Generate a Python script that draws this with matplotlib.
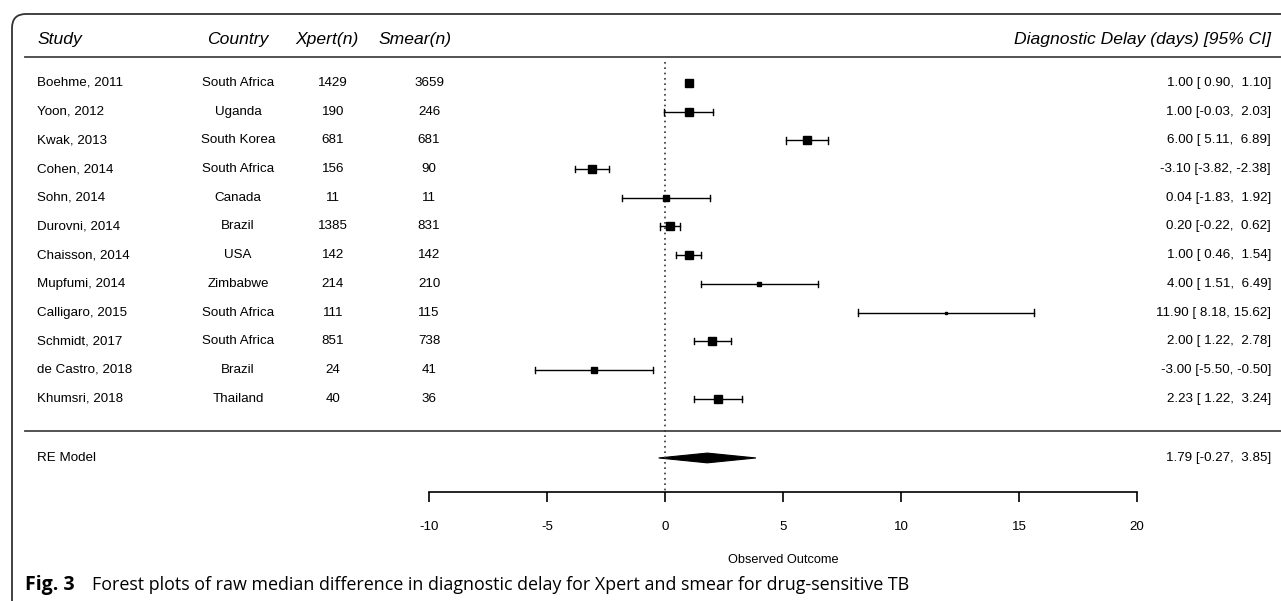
import numpy as np
import matplotlib.pyplot as plt
from matplotlib.patches import FancyBboxPatch, Polygon

plt.rcParams['font.family'] = ['Liberation Sans', 'DejaVu Sans']

studies = ['Boehme, 2011', 'Yoon, 2012', 'Kwak, 2013', 'Cohen, 2014', 'Sohn, 2014',
           'Durovni, 2014', 'Chaisson, 2014', 'Mupfumi, 2014', 'Calligaro, 2015',
           'Schmidt, 2017', 'de Castro, 2018', 'Khumsri, 2018']
countries = ['South Africa', 'Uganda', 'South Korea', 'South Africa', 'Canada', 'Brazil',
             'USA', 'Zimbabwe', 'South Africa', 'South Africa', 'Brazil', 'Thailand']
xpert_n = [1429, 190, 681, 156, 11, 1385, 142, 214, 111, 851, 24, 40]
smear_n = [3659, 246, 681, 90, 11, 831, 142, 210, 115, 738, 41, 36]
est = [1.00, 1.00, 6.00, -3.10, 0.04, 0.20, 1.00, 4.00, 11.90, 2.00, -3.00, 2.23]
lo = [0.90, -0.03, 5.11, -3.82, -1.83, -0.22, 0.46, 1.51, 8.18, 1.22, -5.50, 1.22]
hi = [1.10, 2.03, 6.89, -2.38, 1.92, 0.62, 1.54, 6.49, 15.62, 2.78, -0.50, 3.24]
# square size (px)
box_px = [9, 9, 9, 9, 7, 8, 9, 5, 3, 9, 6, 9]
re_est, re_lo, re_hi = 1.79, -0.27, 3.85
xticks = [-10, -5, 0, 5, 10, 15, 20]

fig = plt.figure(figsize=(12.81, 6.01), dpi=100)
ax = fig.add_axes([0, 0, 1, 1])
ax.set_xlim(-28.18, 26.10)
ax.set_ylim(18.05, -2.892)
ax.set_yticks([])
for s in ['top', 'left', 'right']:
    ax.spines[s].set_visible(False)

# frame with rounded corner
box = FancyBboxPatch((0.12, -1.0), 14, 6.01 - 0.14 + 1.0,
                     boxstyle='round,pad=0,rounding_size=0.14',
                     transform=fig.dpi_scale_trans, fill=False,
                     edgecolor='#333333', linewidth=1.3, clip_on=False)
fig.patches.append(box)

fs = 9.6
hfs = 12.6
xs_study, xs_country, xs_xpert, xs_smear, xs_right = -26.61, -18.09, -14.07, -10.0, 25.68

# headers
ax.text(xs_study, -1.5, 'Study', ha='left', va='center', fontsize=hfs, style='italic')
ax.text(xs_country, -1.5, 'Country', ha='center', va='center', fontsize=hfs, style='italic')
ax.text(-14.32, -1.5, 'Xpert(n)', ha='center', va='center', fontsize=hfs, style='italic')
ax.text(-10.59, -1.5, 'Smear(n)', ha='center', va='center', fontsize=hfs, style='italic')
ax.text(xs_right, -1.5, 'Diagnostic Delay (days) [95% CI]', ha='right', va='center',
        fontsize=hfs, style='italic')
ax.plot([-27.12, 26.1], [-0.906, -0.906], color='#444444', lw=1.3, clip_on=False)
ax.plot([-27.12, 26.1], [12.125, 12.125], color='#444444', lw=1.3, clip_on=False)

# reference line
ax.plot([0, 0], [-0.73, 14.25], color='#333333', lw=1.2, ls=(0, (1, 2.2)))

rows = np.arange(len(studies))
for i in rows:
    ax.text(xs_study, i, studies[i], ha='left', va='center', fontsize=fs)
    ax.text(xs_country, i, countries[i], ha='center', va='center', fontsize=fs)
    ax.text(xs_xpert, i, str(xpert_n[i]), ha='center', va='center', fontsize=fs)
    ax.text(xs_smear, i, str(smear_n[i]), ha='center', va='center', fontsize=fs)
    lab = '%.2f [%5.2f, %5.2f]' % (est[i], lo[i], hi[i])
    ax.text(xs_right, i, lab, ha='right', va='center', fontsize=fs)
    ax.plot([lo[i], hi[i]], [i, i], color='black', lw=1.0)
    for e in (lo[i], hi[i]):
        ax.plot([e, e], [i - 0.11, i + 0.11], color='black', lw=1.0)
    ax.plot(est[i], i, marker='s', color='black', ms=box_px[i] / 1.389, lw=0)

# RE model
yre = 13.066
ax.text(xs_study, yre, 'RE Model', ha='left', va='center', fontsize=fs)
ax.add_patch(Polygon([[re_lo, yre], [re_est, yre - 0.17], [re_hi, yre], [re_est, yre + 0.17]],
                     closed=True, facecolor='black', edgecolor='black', lw=0.8))
ax.text(xs_right, yre, '%.2f [%5.2f, %5.2f]' % (re_est, re_lo, re_hi), ha='right',
        va='center', fontsize=fs)

# x axis
ax.spines['bottom'].set_position(('data', 14.25))
ax.spines['bottom'].set_bounds(-10, 20)
ax.spines['bottom'].set_linewidth(1.2)
ax.set_xticks(xticks)
ax.set_xticklabels([str(t) for t in xticks], fontsize=fs)
ax.tick_params(axis='x', direction='out', length=7.2, width=1.2, pad=14)
ax.text(5.0, 16.62, 'Observed Outcome', ha='center', va='center', fontsize=9.2)

# caption
ax.text(-27.12, 17.49, 'Fig. 3', ha='left', va='center', fontsize=14,
        fontweight='bold', family='Open Sans')
ax.text(-24.3, 17.49, 'Forest plots of raw median difference in diagnostic delay for Xpert '
        'and smear for drug-sensitive TB', ha='left', va='center', fontsize=12.9,
        family='Open Sans')

fig.savefig('out.png', dpi=100)
